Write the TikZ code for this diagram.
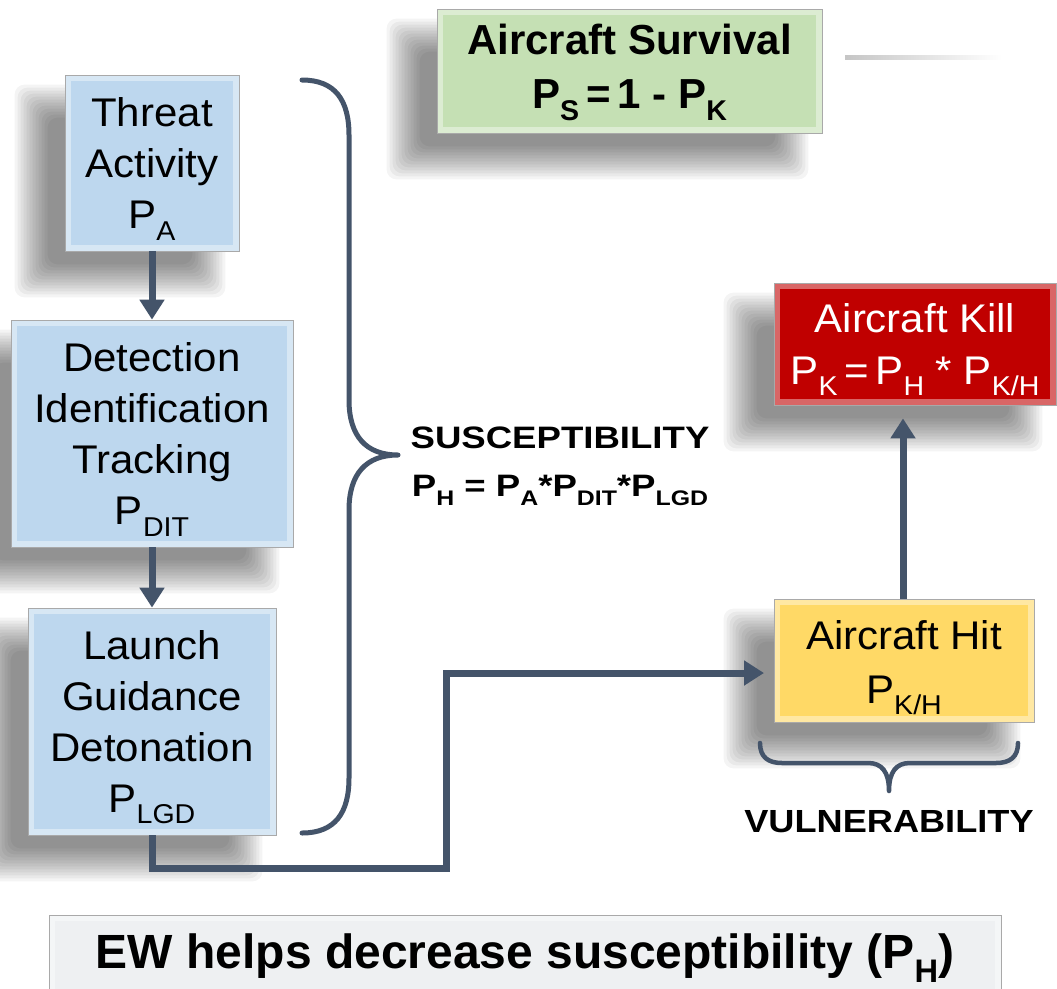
\documentclass[tikz,border=0pt]{standalone}
\usepackage{fontspec}
\setmainfont{Liberation Sans}
\usepackage{graphicx}
\usetikzlibrary{arrows.meta,calc,backgrounds}

\definecolor{conn}{HTML}{44546A}
\definecolor{bluebox}{HTML}{BDD7EE}
\definecolor{greenbox}{HTML}{C5E0B4}
\definecolor{redbox}{HTML}{C00000}
\definecolor{yellowbox}{HTML}{FFD966}
\definecolor{greybox}{HTML}{EEF0F2}
\definecolor{edgegrey}{HTML}{A9A9A9}

\pgfdeclarelayer{paper}
\pgfdeclarelayer{shadowlayer}
\pgfsetlayers{paper,shadowlayer,main}

\newcommand\lowsub[1]{\raisebox{-0.28em}{\scalebox{0.68}{#1}}}
\newcommand\topstrut[1]{\rule{0pt}{#1}}
\newcommand\boxshadow[1]{%
  \foreach \e in {18,15,...,-15}{%
    \pgfmathsetmacro\sxa{-32-\e}%
    \pgfmathsetmacro\sya{-28-\e}%
    \pgfmathsetmacro\sxb{-32+\e}%
    \pgfmathsetmacro\syb{-28+\e}%
    \fill[black, opacity=0.045, rounded corners=10pt]
      ([shift={(\sxa pt,\sya pt)}]#1.south west) rectangle
      ([shift={(\sxb pt,\syb pt)}]#1.north east);}}

\tikzset{
  box/.style={draw=edgegrey, line width=0.8pt, rectangle, inner sep=0pt, align=center,
    path picture={\draw[white, opacity=0.4, line width=6pt]
      ([shift={(3pt,3pt)}]path picture bounding box.south west) rectangle
      ([shift={(-3pt,-3pt)}]path picture bounding box.north east);}},
  regtext/.style={font=\fontsize{40}{51}\selectfont\addfontfeature{FakeStretch=1.05}},
  connarrow/.style={draw=conn, line width=7pt, line join=miter,
      -{Triangle[length=20pt,width=24pt]}},
  bracestyle/.style={draw=conn, line width=5pt, line cap=round, line join=round},
}

\begin{document}
\begin{tikzpicture}[x=1pt,y=-1pt]
\useasboundingbox (0,0) rectangle (1057,988);
\clip (0,0) rectangle (1057,988);
\begin{pgfonlayer}{paper}
\fill[white] (0,0) rectangle (1057,988);
\end{pgfonlayer}

% decorative grey line, top right
\shade[left color=gray!45, right color=white] (845,55) rectangle (1002,59);

% boxes
\node[box, fill=greenbox, minimum width=385pt, minimum height=124pt,
      font=\bfseries\fontsize{42}{54}\selectfont] (surv) at (629.5,71)
      {\topstrut{34pt}Aircraft Survival\\P\lowsub{S}\,=\,1 - P\lowsub{K}};

\node[box, fill=bluebox, minimum width=174pt, minimum height=176pt, regtext]
      (threat) at (152,163) {\topstrut{41pt}Threat\\Activity\\P\lowsub{A}};

\node[box, fill=bluebox, minimum width=282pt, minimum height=227pt, regtext]
      (det) at (152,433.5) {\topstrut{41pt}Detection\\Identification\\Tracking\\P\lowsub{DIT}};

\node[box, fill=bluebox, minimum width=248pt, minimum height=227pt, regtext]
      (launch) at (152,721.5) {\topstrut{41pt}Launch\\Guidance\\Detonation\\P\lowsub{LGD}};

\node[box, fill=redbox, text=white, minimum width=282pt, minimum height=122pt,
      font=\fontsize{40}{52}\selectfont\addfontfeature{FakeStretch=1.05}]
      (kill) at (915,344) {\topstrut{40pt}Aircraft Kill\\P\lowsub{K}\,=\,P\lowsub{H} * P\lowsub{K/H}};

\node[box, fill=yellowbox, minimum width=260pt, minimum height=123pt,
      font=\fontsize{40}{54}\selectfont\addfontfeature{FakeStretch=1.05}]
      (hit) at (904,660.5) {\topstrut{43pt}Aircraft Hit\\P\lowsub{K/H}};

\node[box, fill=greybox, minimum width=952pt, minimum height=86pt,
      font=\bfseries\fontsize{48}{56}\selectfont]
      (ew) at (525,958) {EW helps decrease susceptibility (P\lowsub{H})};

% soft shadows behind the boxes
\begin{pgfonlayer}{shadowlayer}
\boxshadow{surv}
\boxshadow{threat}
\boxshadow{det}
\boxshadow{launch}
\boxshadow{kill}
\boxshadow{hit}
\end{pgfonlayer}

% labels
\node[align=center, font=\bfseries\fontsize{31}{48}\selectfont\addfontfeature{FakeStretch=1.18}]
      (susc) at (560,466) {SUSCEPTIBILITY\\P\lowsub{H} = P\lowsub{A}*P\lowsub{DIT}*P\lowsub{LGD}};
\node[font=\bfseries\fontsize{32}{38}\selectfont\addfontfeature{FakeStretch=1.13}]
      (vul) at (889,822) {VULNERABILITY};

% connectors
\draw[connarrow] (threat.south) -- (det.north);
\draw[connarrow] (det.south) -- (launch.north);
\coordinate (bend) at (446,868);
\coordinate (hitin) at (774,673);
\draw[connarrow, shorten >=10pt] (launch.south) |- (bend) |- (hitin);
\draw[connarrow, shorten >=13pt] ([xshift=-1pt]hit.north) -- ([xshift=-1pt]hit.north |- kill.south);

% braces
\draw[bracestyle] (302,80) .. controls (335,80) and (349,100) .. (349,135)
  -- (349,400) .. controls (349,436) and (366,455) .. (398,455)
  .. controls (366,455) and (349,474) .. (349,510)
  -- (349,778) .. controls (349,813) and (335,833) .. (302,833);
\draw[bracestyle, line width=4.5pt] (760,743) .. controls (760,757) and (768,763) .. (782,763)
  -- (868,763) .. controls (882,763) and (889,772) .. (889,791)
  .. controls (889,772) and (896,763) .. (910,763)
  -- (996,763) .. controls (1010,763) and (1018,757) .. (1018,743);
\end{tikzpicture}
\end{document}
